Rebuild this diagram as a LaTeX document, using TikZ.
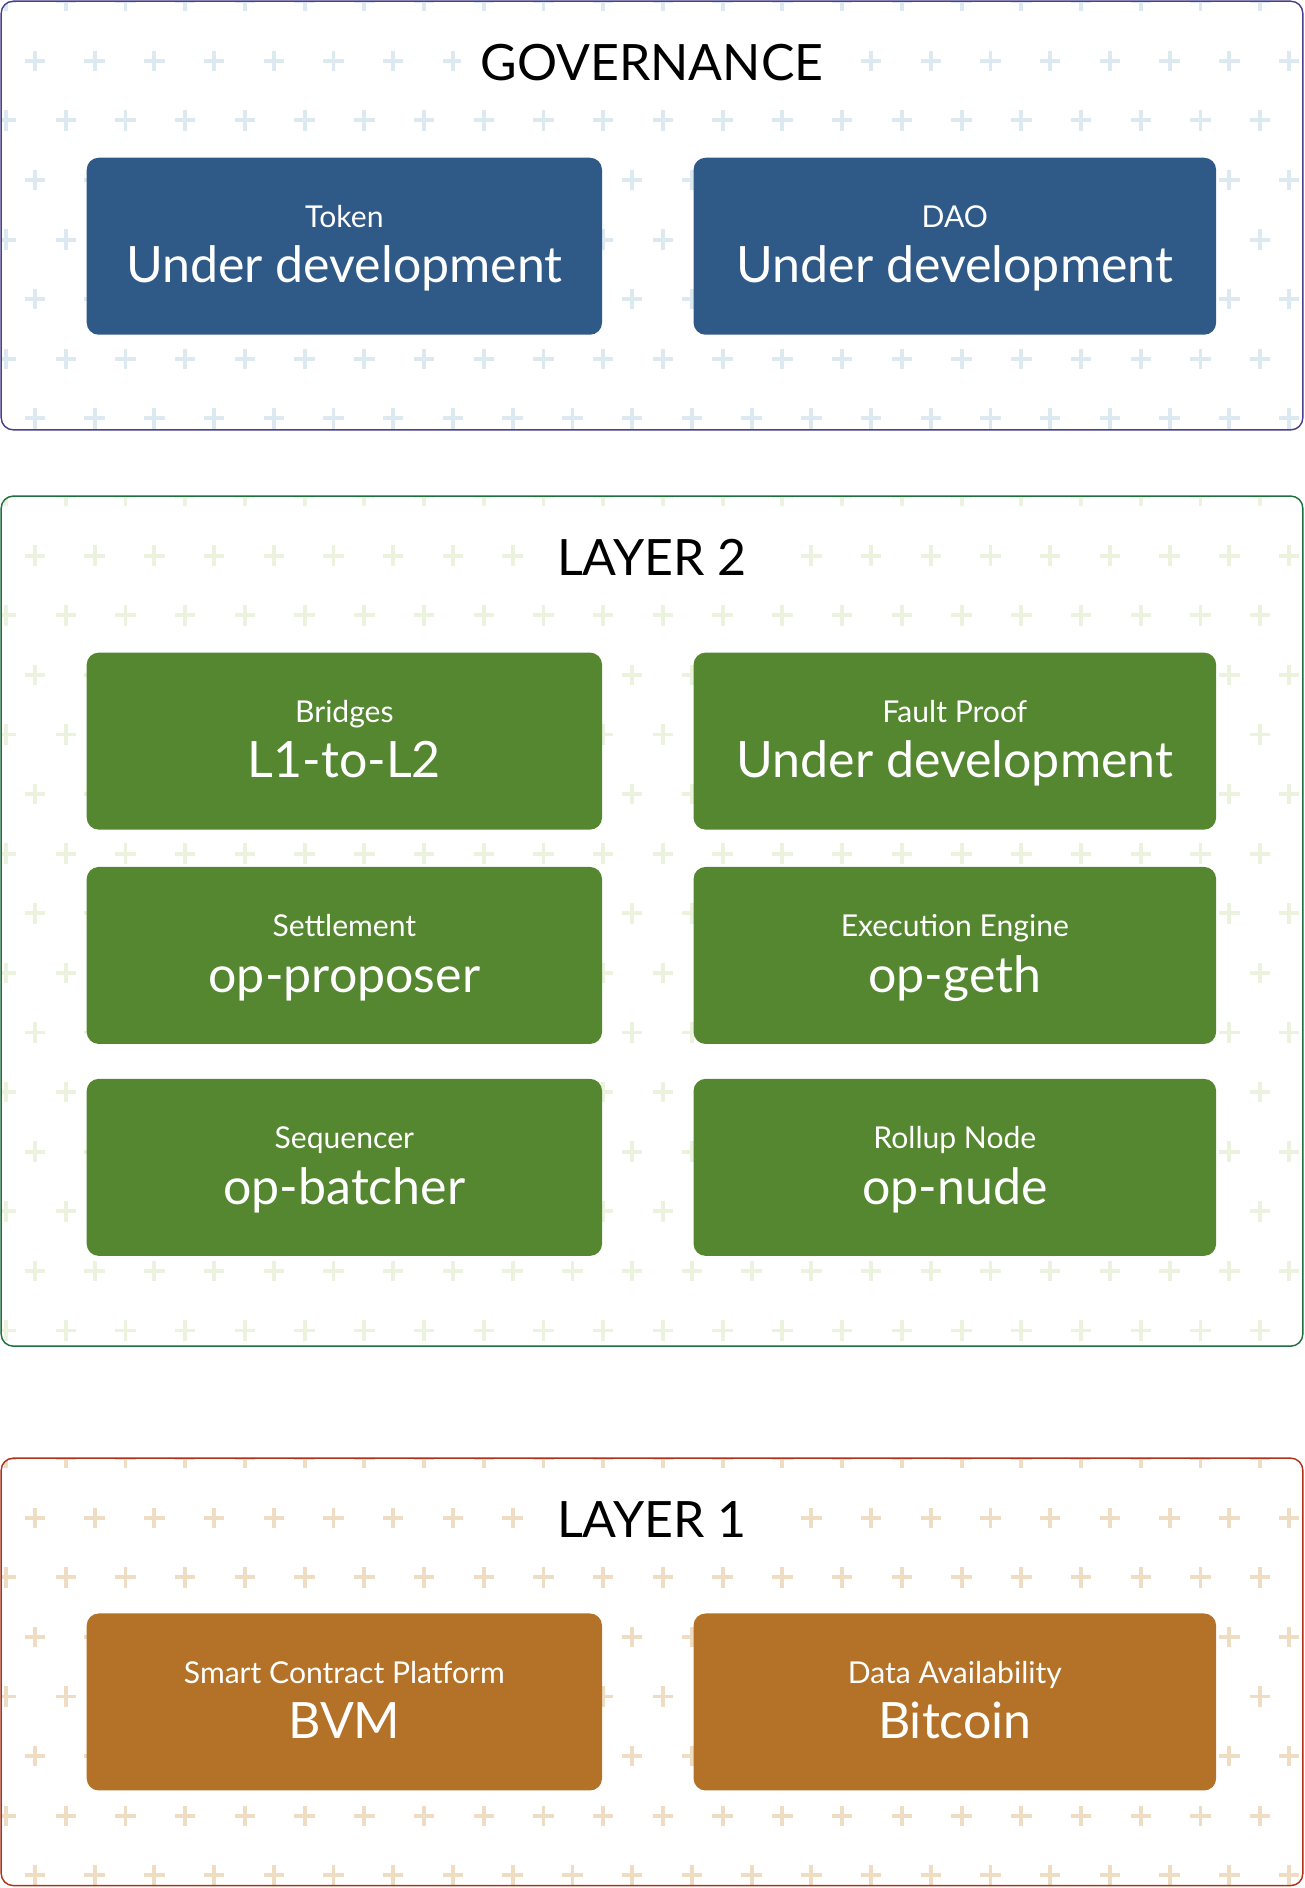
\documentclass[tikz,border=0pt]{standalone}
\usepackage{fontspec}
\setmainfont{Lato}
\usetikzlibrary{positioning}

\definecolor{govline}{HTML}{4B3F8C}
\definecolor{govfill}{HTML}{2F5A87}
\definecolor{govplus}{HTML}{DDE9F1}
\definecolor{ltwoline}{HTML}{1F6F3F}
\definecolor{ltwofill}{HTML}{548730}
\definecolor{ltwoplus}{HTML}{EBF3DF}
\definecolor{loneline}{HTML}{B0301A}
\definecolor{lonefill}{HTML}{B47228}
\definecolor{loneplus}{HTML}{EEDCC3}

% plus pattern inside a panel: colour, top, bottom
\newcommand{\plusfield}[3]{%
  \begin{scope}
  \clip[rounded corners=5pt] (1,#2) rectangle (1082,#3);
  \foreach \r in {0,...,15}{
    \pgfmathsetmacro{\yy}{#2+49.5*\r}
    \pgfmathsetmacro{\xo}{mod(\r,2)==1 ? 29 : 5}
    \foreach \c in {0,...,22}{
      \draw[#1,line width=1.6pt] ({\xo+49.6*\c-8.5},\yy) -- ++(17,0)
                                 ({\xo+49.6*\c},\yy-8.5) -- ++(0,17);
    }
  }
  \end{scope}}

\begin{document}
\begin{tikzpicture}[x=0.5pt,y=-0.5pt]
\tikzstyle{panel}=[rounded corners=5pt,line width=0.6pt]
\tikzstyle{block}=[rounded corners=5pt,minimum height=73.5pt,inner sep=0pt]
\tikzstyle{lblock}=[block,minimum width=214pt]
\tikzstyle{rblock}=[block,minimum width=217pt]
\tikzstyle{title}=[fill=white,inner xsep=8pt,inner ysep=2pt,anchor=base,font=\fontsize{20.8}{25}\selectfont]
\tikzstyle{subtxt}=[white,inner sep=0pt,anchor=base,font=\fontsize{12.5}{15}\selectfont]
\tikzstyle{maintxt}=[white,inner sep=0pt,anchor=base,font=\fontsize{20.8}{25}\selectfont]
\useasboundingbox (0,0) rectangle (1083,1568);

% governance
\plusfield{govplus}{1}{357}
\draw[panel,govline] (1,1) rectangle (1082,357);
\node[title] (govT) at (541.5,67) {GOVERNANCE};
\node[lblock,fill=govfill] (token) at (286,204.5) {};
\node[rblock,fill=govfill] (dao) at (793,204.5) {};
\node[subtxt] (tokenS) at ([yshift=7.75pt]token.center) {Token};
\node[maintxt] (tokenM) at ([yshift=-15.25pt]token.center) {Under development};
\node[subtxt] (daoS) at ([yshift=7.75pt]dao.center) {DAO};
\node[maintxt] (daoM) at ([yshift=-15.25pt]dao.center) {Under development};

% layer 2
\plusfield{ltwoplus}{412}{1118}
\draw[panel,ltwoline] (1,412) rectangle (1082,1118);
\node[title] (ltwoT) at (541.5,478) {LAYER 2};
\node[lblock,fill=ltwofill] (bridge) at (286,615.5) {};
\node[rblock,fill=ltwofill] (fault) at (793,615.5) {};
\node[lblock,fill=ltwofill] (settle) at (286,793.5) {};
\node[rblock,fill=ltwofill] (exec) at (793,793.5) {};
\node[lblock,fill=ltwofill] (seq) at (286,969.5) {};
\node[rblock,fill=ltwofill] (rollup) at (793,969.5) {};
\node[subtxt] (bridgeS) at ([yshift=7.75pt]bridge.center) {Bridges};
\node[maintxt] (bridgeM) at ([yshift=-15.25pt]bridge.center) {L1-to-L2};
\node[subtxt] (faultS) at ([yshift=7.75pt]fault.center) {Fault Proof};
\node[maintxt] (faultM) at ([yshift=-15.25pt]fault.center) {Under development};
\node[subtxt] (settleS) at ([yshift=7.75pt]settle.center) {Settlement};
\node[maintxt] (settleM) at ([yshift=-15.25pt]settle.center) {op-proposer};
\node[subtxt] (execS) at ([yshift=7.75pt]exec.center) {Execution Engine};
\node[maintxt] (execM) at ([yshift=-15.25pt]exec.center) {op-geth};
\node[subtxt] (seqS) at ([yshift=7.75pt]seq.center) {Sequencer};
\node[maintxt] (seqM) at ([yshift=-15.25pt]seq.center) {op-batcher};
\node[subtxt] (rollupS) at ([yshift=7.75pt]rollup.center) {Rollup Node};
\node[maintxt] (rollupM) at ([yshift=-15.25pt]rollup.center) {op-nude};

% layer 1
\plusfield{loneplus}{1211}{1566}
\draw[panel,loneline] (1,1211) rectangle (1082,1566);
\node[title] (loneT) at (541.5,1277) {LAYER 1};
\node[lblock,fill=lonefill] (bvm) at (286,1413.5) {};
\node[rblock,fill=lonefill] (btc) at (793,1413.5) {};
\node[subtxt] (bvmS) at ([yshift=7.75pt]bvm.center) {Smart Contract Platform};
\node[maintxt] (bvmM) at ([yshift=-15.25pt]bvm.center) {BVM};
\node[subtxt] (btcS) at ([yshift=7.75pt]btc.center) {Data Availability};
\node[maintxt] (btcM) at ([yshift=-15.25pt]btc.center) {Bitcoin};
\end{tikzpicture}
\end{document}
